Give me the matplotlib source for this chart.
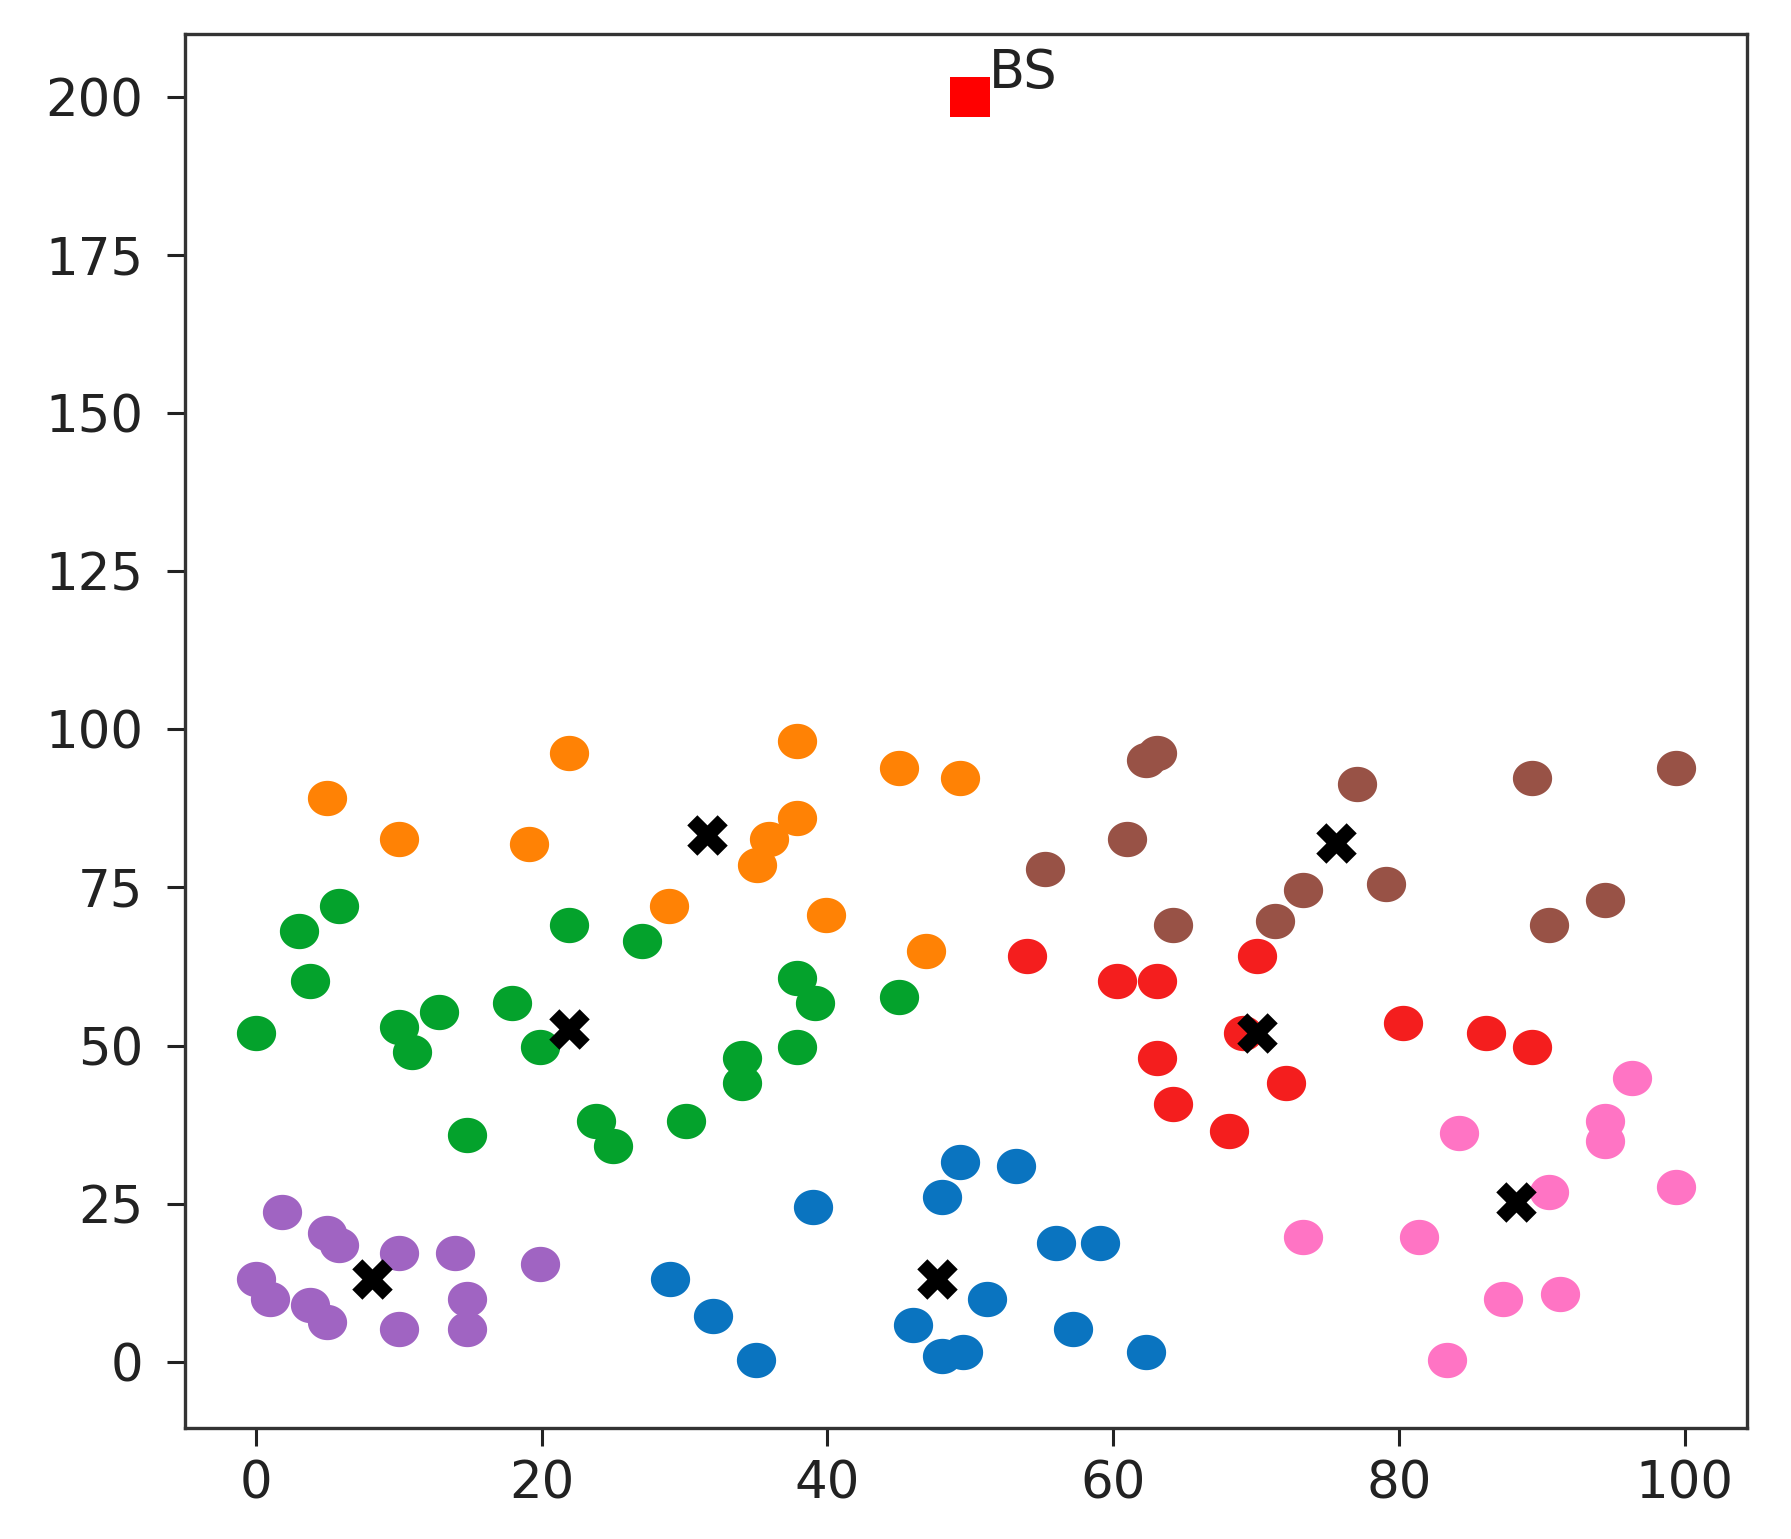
import numpy as np
import matplotlib
matplotlib.use('Agg')
import matplotlib.pyplot as plt
from matplotlib.path import Path

# cluster members
blue_x = [29, 32, 35, 39, 46, 48, 49.3, 48, 49.5, 51.2, 53.2, 56, 57.2, 59.1, 62.3]
blue_y = [13, 7.2, 0.2, 24.4, 5.8, 26, 31.6, 0.9, 1.6, 9.9, 30.9, 18.8, 5.1, 18.8, 1.6]

orange_x = [5, 10, 19.1, 21.9, 28.9, 35.1, 35.9, 37.9, 37.9, 39.9, 45, 46.9, 49.3]
orange_y = [89.1, 82.7, 81.8, 96.3, 72.1, 78.6, 82.6, 86, 98.1, 70.6, 93.9, 64.9, 92.3]

green_x = [0, 3, 3.8, 5.8, 10, 10.9, 12.8, 14.8, 17.9, 19.9, 21.9, 23.8, 25, 27,
           30.1, 34, 34, 37.9, 37.9, 39.1, 45]
green_y = [52, 68.1, 60.2, 72.1, 52.9, 49, 55.3, 35.8, 56.7, 49.7, 69, 38.1, 34.1, 66.5,
           38.1, 48.1, 44.1, 60.7, 49.7, 56.7, 57.6]

red_x = [54, 60.3, 63.1, 63.1, 64.2, 68.1, 69.1, 70.1, 72.1, 80.3, 86.1, 89.3]
red_y = [64.1, 60.2, 60.2, 48.1, 40.7, 36.5, 52, 64.1, 44.1, 53.5, 52, 49.7]

purple_x = [0, 1, 1.8, 3.8, 5, 5.8, 5, 10, 10, 13.9, 14.8, 14.8, 19.9]
purple_y = [13, 9.9, 23.7, 9, 20.4, 18.4, 6.3, 17.2, 5.1, 17.2, 9.9, 5.1, 15.5]

brown_x = [55.2, 61, 62.3, 63.1, 64.2, 71.3, 73.3, 77.1, 79.1, 89.3, 90.5, 94.4, 99.4]
brown_y = [77.9, 82.7, 95.2, 96.3, 69, 69.7, 74.6, 91.4, 75.5, 92.3, 69, 73, 93.9]

pink_x = [73.3, 81.4, 83.4, 84.2, 87.3, 90.5, 91.3, 94.4, 94.4, 96.3, 99.4]
pink_y = [19.7, 19.7, 0.2, 36.1, 9.9, 26.9, 10.7, 38.1, 34.9, 44.8, 27.6]

# cluster heads
head_x = [47.7, 31.6, 21.9, 70.1, 8.1, 75.6, 88.2]
head_y = [13, 83.3, 52.6, 52, 13, 82, 25.3]

bs_x, bs_y = 50, 200

clusters = [
    (blue_x, blue_y, '#0a74c0'),
    (orange_x, orange_y, '#ff8205'),
    (green_x, green_y, '#04a22c'),
    (red_x, red_y, '#f41e1e'),
    (purple_x, purple_y, '#a064c2'),
    (brown_x, brown_y, '#985246'),
    (pink_x, pink_y, '#ff74c4'),
]

plt.rcParams['font.family'] = 'DejaVu Sans'
plt.rcParams['font.size'] = 37

fig = plt.figure(figsize=(17.91, 15.39), dpi=100)
ax = fig.add_axes([0.1033, 0.0721, 0.8721, 0.9059])

# the original picture is stretched a bit wide, so the dots are ellipses
t = np.linspace(0, 2 * np.pi, 60)
oval = Path(np.column_stack([np.cos(t), 0.9 * np.sin(t)]), closed=True)

for xs, ys, c in clusters:
    ax.scatter(xs, ys, s=800, marker=oval, color=c, linewidths=0, zorder=2)

ax.scatter(head_x, head_y, s=850, marker='X', color='black', linewidths=0, zorder=3)

ax.scatter([bs_x], [bs_y], s=850, marker='s', color='red', linewidths=0, zorder=3)
ax.text(bs_x + 1.3, bs_y + 1.5, 'BS', color='#222222', fontsize=38)

ax.set_ylim(-10.5, 210)
ax.set_xticks([0, 20, 40, 60, 80, 100])
ax.set_yticks([0, 25, 50, 75, 100, 125, 150, 175, 200])
ax.tick_params(length=13, width=2.2, colors='#222222', pad=10)
ax.tick_params(axis='y', pad=17)
for sp in ax.spines.values():
    sp.set_linewidth(2.4)
    sp.set_color('#333333')

plt.savefig('out.png', dpi=100)
